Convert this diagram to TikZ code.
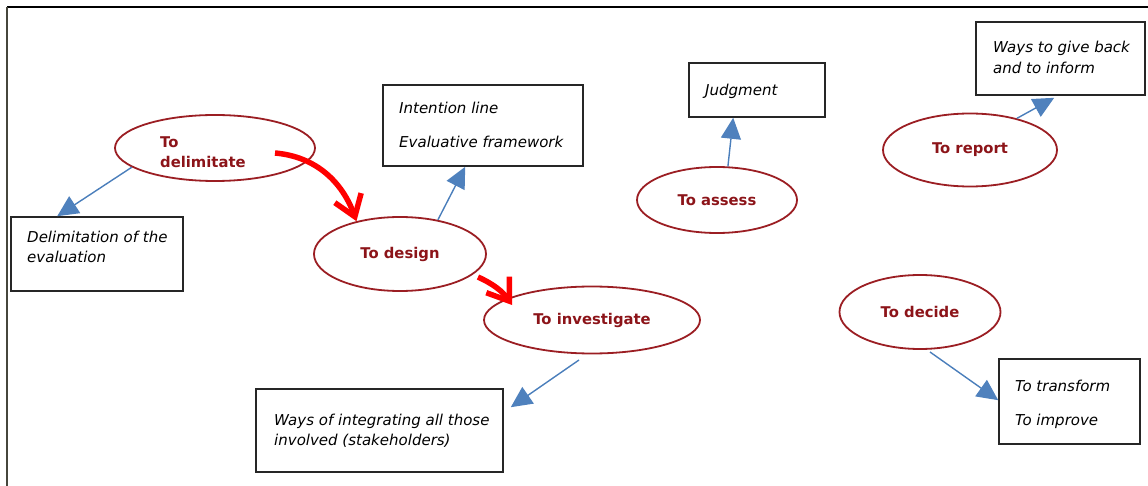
\documentclass[tikz,border=0pt]{standalone}
\usepackage{fontspec}
\setmainfont{DejaVu Sans}
\usetikzlibrary{arrows.meta,shapes.geometric}
\definecolor{oval}{RGB}{155,30,35}
\definecolor{ovaltext}{RGB}{140,20,25}
\definecolor{linkblue}{RGB}{74,126,187}
\definecolor{headblue}{RGB}{79,129,189}
\definecolor{framegray}{RGB}{70,70,60}
\begin{document}
\begin{tikzpicture}[x=1pt,y=-1pt,
  stage/.style={ellipse, draw=oval, line width=1.8pt, inner sep=0pt,
    text=ovaltext, font=\fontsize{14.8}{21}\selectfont\bfseries},
  notebox/.style={draw=black!85, line width=1.6pt, inner sep=0pt},
  notetext/.style={anchor=base west, inner sep=0pt, align=left,
    font=\fontsize{15}{20}\selectfont\itshape},
  link/.style={draw=linkblue, line width=1.4pt,
    -{Triangle[length=21pt,width=20pt,color=headblue]}},
  flow/.style={draw=red, line width=5.5pt,
    -{Straight Barb[length=20pt,width=28pt]}}
]
\useasboundingbox (0,0) rectangle (1148,486);

% frame
\draw[black, line width=1.5pt] (7,7) -- (1148,7);
\draw[framegray, line width=2pt] (7,7) -- (7,486);

% stages (multi-line texts are anchored on the baseline of their last line)
\node[stage, minimum width=200pt, minimum height=66pt] (dlm) at (215,148) {};
\node[anchor=base west, inner sep=0pt, align=left, text=ovaltext,
  font=\fontsize{14.8}{20}\selectfont\bfseries] (dlmtxt) at (160,168) {To\\delimitate};
\node[stage, minimum width=172pt, minimum height=74pt] (des) at (400,254) {To design};
\node[stage, minimum width=216pt, minimum height=67pt] (inv) at (592,320) {To investigate};
\node[stage, minimum width=160pt, minimum height=66pt] (ass) at (717,200) {To assess};
\node[stage, minimum width=174pt, minimum height=73pt] (rep) at (970,150) {To report};
\node[stage, minimum width=161pt, minimum height=74pt] (dec) at (920,312) {To decide};

% note boxes
\node[notebox, minimum width=172pt, minimum height=74pt] (b1) at (97,254) {};
\node[notetext] (t1) at (27,262) {Delimitation of the\\evaluation};
\node[notebox, minimum width=200pt, minimum height=81pt] (b2) at (483,125.5) {};
\node[notetext] (t2) at (399,148) {Intention line\\[14pt]Evaluative framework};
\node[notebox, minimum width=247pt, minimum height=83pt] (b3) at (379.5,430.5) {};
\node[notetext] (t3) at (274,445) {Ways of integrating all those\\involved (stakeholders)};
\node[notebox, minimum width=136pt, minimum height=54pt] (b4) at (757,90) {};
\node[notetext] (t4) at (705,96) {Judgment};
\node[notebox, minimum width=169pt, minimum height=73pt] (b5) at (1060.5,58.5) {};
\node[notetext] (t5) at (993,74) {Ways to give back\\[1pt]and to inform};
\node[notebox, minimum width=141pt, minimum height=85pt] (b6) at (1069.5,401.5) {};
\node[notetext] (t6) at (1015,425) {To transform\\[14pt]To improve};

% sequence arrows
\draw[flow] ([xshift=60pt,yshift=-5pt]dlm.center) to[out=-5,in=110] (des.143);
\draw[flow] ([xshift=78pt,yshift=-23pt]des.center) to[out=-25,in=125] ([xshift=-80pt,yshift=15pt]inv.center);

% outputs of each stage
\draw[link] (dlm.193) -- ([xshift=47pt]b1.north west);
\draw[link] (des.42) -- ([xshift=83pt]b2.south west);
\draw[link] ([xshift=-13pt,yshift=-40pt]inv.center) -- ([xshift=7pt,yshift=-19pt]b3.north east);
\draw[link] (ass.72) -- ([xshift=45pt]b4.south west);
\draw[link] (rep.34) -- ([xshift=79pt,yshift=-2pt]b5.south west);
\draw[link] ([xshift=10pt,yshift=-40pt]dec.center) -- ([yshift=-42pt]b6.north west);
\end{tikzpicture}
\end{document}
